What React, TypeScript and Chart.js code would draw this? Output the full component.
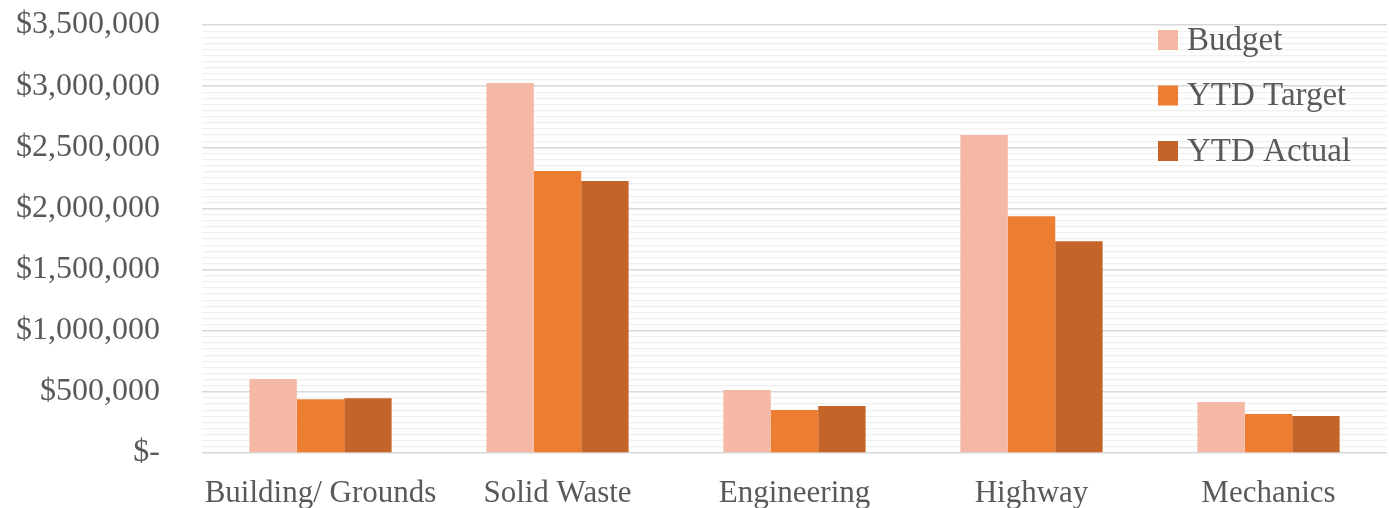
import React, { useEffect, useRef } from "react";
import { Chart, registerables } from "chart.js";

Chart.register(...registerables);

const categories = ["Building/ Grounds", "Solid Waste", "Engineering", "Highway", "Mechanics"];
const budget = [605000, 3025000, 515000, 2600000, 417000];
const ytdTarget = [439000, 2306000, 352000, 1936000, 319000];
const ytdActual = [447000, 2224000, 384000, 1731000, 303000];
const seriesNames = ["Budget", "YTD Target", "YTD Actual"];
const seriesColors = ["#F4B8A5", "#ED7D31", "#C46428"];

const FONT = "'Liberation Serif', 'Times New Roman', serif";
const TEXT = "#595959";

const fmt = (v: number) => {
  if (v === 0) return "$-";
  return "$" + v.toLocaleString("en-US");
};

const legendPlugin = {
  id: "rightLegend",
  afterDraw(chart: any) {
    const ctx = chart.ctx;
    ctx.save();
    ctx.font = `33px ${FONT}`;
    ctx.textBaseline = "middle";
    ctx.textAlign = "left";
    chart.data.datasets.forEach((ds: any, i: number) => {
      const cy = 40 + i * 55.5;
      ctx.fillStyle = ds.backgroundColor;
      ctx.fillRect(1158, cy - 10, 20, 20);
      ctx.fillStyle = TEXT;
      ctx.fillText(ds.label, 1187, cy + 1);
    });
    ctx.restore();
  },
};

export default function App() {
  const ref = useRef<HTMLCanvasElement>(null);
  useEffect(() => {
    document.body.style.margin = "0";
    const chart = new Chart(ref.current!, {
      type: "bar",
      data: {
        labels: categories,
        datasets: [budget, ytdTarget, ytdActual].map((d, i) => ({
          label: seriesNames[i],
          data: d,
          backgroundColor: seriesColors[i],
          categoryPercentage: 0.6,
          barPercentage: 1.0,
        })),
      },
      options: {
        animation: false,
        responsive: false,
        maintainAspectRatio: false,
        layout: { padding: { top: 25, right: 2, left: 0, bottom: 0 } },
        plugins: { legend: { display: false }, tooltip: { enabled: false } },
        scales: {
          x: {
            grid: { display: false, drawTicks: false },
            border: { display: false },
            ticks: { color: TEXT, font: { family: FONT, size: 31 }, padding: 22, maxRotation: 0 },
            afterFit(scale: any) {
              scale.height = 55;
              scale.paddingLeft = 0;
              scale.paddingRight = 0;
            },
          },
          y: {
            min: 0,
            max: 3500000,
            border: { display: false },
            grid: {
              drawTicks: false,
              color: (c: any) => (c.tick && c.tick.value % 500000 === 0 ? "#D9D9D9" : "#F0F0F0"),
              lineWidth: (c: any) => (c.tick && c.tick.value % 500000 === 0 ? 1.5 : 1.2),
            },
            ticks: {
              stepSize: 50000,
              maxTicksLimit: 200,
              autoSkip: false,
              color: TEXT,
              font: { family: FONT, size: 32 },
              padding: 42,
              callback: (v: any) => (Number(v) % 500000 === 0 ? fmt(Number(v)) : ""),
            },
            afterFit(scale: any) {
              scale.width = 202;
              scale.paddingTop = 0;
              scale.paddingBottom = 0;
            },
          },
        },
      },
      plugins: [legendPlugin],
    });
    return () => chart.destroy();
  }, []);
  return (
    <div style={{ width: 1389, height: 508, background: "#fff" }}>
      <canvas ref={ref} width={1389} height={508} style={{ display: "block" }} />
    </div>
  );
}
